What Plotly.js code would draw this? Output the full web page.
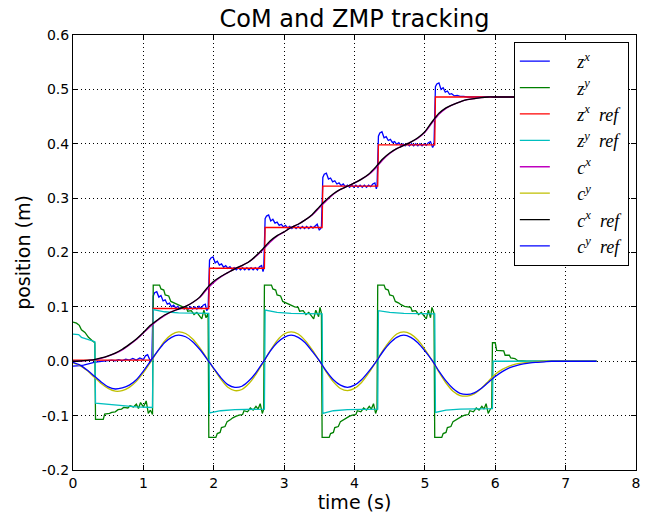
<!DOCTYPE html>
<html>
<head>
<meta charset="utf-8">
<script src="https://cdn.plot.ly/plotly-3.0.1.min.js"></script>
<style>html,body{margin:0;padding:0;background:#fff;}</style>
</head>
<body>
<div id="chart" style="width:650px;height:514px;"></div>
<script>
// ---- time grid for smooth CoM curves (s)
var tGrid = [0.0,0.1,0.2,0.3,0.4,0.5,0.6,0.7,0.8,0.9,1.0,1.1,1.2,1.3,1.4,1.5,1.6,1.7,1.8,1.9,
  2.0,2.1,2.2,2.3,2.4,2.5,2.6,2.7,2.8,2.9,3.0,3.1,3.2,3.3,3.4,3.5,3.6,3.7,3.8,3.9,
  4.0,4.1,4.2,4.3,4.4,4.5,4.6,4.7,4.8,4.9,5.0,5.1,5.2,5.3,5.4,5.5,5.6,5.7,5.8,5.9,
  6.0,6.1,6.2,6.3,6.4,6.5,6.6,6.7,6.8,6.9,7.0,7.1,7.2,7.3,7.4,7.44];

// ---- c^x ref (black)
var cxRef = [0.000,0.0005,0.0015,0.003,0.006,0.010,0.015,0.022,0.031,0.041,0.053,0.066,0.076,0.085,0.091,0.096,0.101,0.108,0.118,0.134,
  0.147,0.156,0.163,0.170,0.176,0.183,0.194,0.207,0.221,0.231,0.238,0.246,0.252,0.260,0.270,0.284,0.297,0.308,0.316,0.322,
  0.328,0.335,0.344,0.357,0.372,0.383,0.391,0.397,0.403,0.411,0.422,0.440,0.456,0.466,0.472,0.477,0.481,0.483,0.485,0.486,
  0.486,0.486,0.486,0.486,0.486,0.486,0.486,0.486,0.486,0.486,0.486,0.486,0.486,0.486,0.486,0.486];
// ---- c^x (magenta)
var cx = [0.000,0.0004,0.0013,0.003,0.0055,0.0095,0.0145,0.021,0.030,0.040,0.052,0.064,0.075,0.084,0.091,0.096,0.101,0.108,0.117,0.132,
  0.145,0.155,0.163,0.170,0.176,0.183,0.193,0.205,0.219,0.230,0.238,0.246,0.252,0.260,0.269,0.282,0.295,0.307,0.316,0.322,
  0.328,0.335,0.343,0.355,0.370,0.382,0.391,0.397,0.403,0.410,0.421,0.438,0.454,0.465,0.472,0.477,0.481,0.483,0.485,0.486,
  0.486,0.486,0.486,0.486,0.486,0.486,0.486,0.486,0.486,0.486,0.486,0.486,0.486,0.486,0.486,0.486];
// ---- c^y ref (blue)
var cyRef = [-0.002,-0.007,-0.016,-0.027,-0.038,-0.047,-0.051,-0.049,-0.044,-0.034,-0.018,0.000,0.018,0.034,0.044,0.048,0.045,0.036,0.022,0.005,
  -0.013,-0.030,-0.043,-0.048,-0.046,-0.036,-0.021,-0.002,0.018,0.034,0.044,0.048,0.044,0.034,0.018,0.001,-0.018,-0.034,-0.044,-0.048,
  -0.044,-0.034,-0.019,-0.002,0.017,0.033,0.044,0.048,0.044,0.034,0.019,0.002,-0.018,-0.036,-0.050,-0.059,-0.061,-0.058,-0.050,-0.039,
  -0.028,-0.019,-0.012,-0.008,-0.005,-0.003,-0.002,-0.001,0.000,0.000,0.000,0.000,0.000,0.000,0.000,0.000];
// ---- c^y (yellow)
var cy = [-0.003,-0.008,-0.017,-0.029,-0.041,-0.050,-0.055,-0.054,-0.048,-0.037,-0.021,-0.002,0.018,0.037,0.049,0.054,0.051,0.041,0.025,0.006,
  -0.014,-0.033,-0.048,-0.054,-0.052,-0.041,-0.024,-0.003,0.019,0.038,0.050,0.054,0.050,0.038,0.021,0.001,-0.020,-0.038,-0.050,-0.054,
  -0.050,-0.039,-0.022,-0.002,0.019,0.037,0.050,0.054,0.050,0.039,0.022,0.002,-0.020,-0.040,-0.055,-0.063,-0.064,-0.060,-0.050,-0.037,
  -0.024,-0.015,-0.009,-0.005,-0.003,-0.002,-0.001,0.000,0.000,0.000,0.000,0.000,0.000,0.000,0.000,0.000];

// ---- z^x ref (red)
var tZxRef = [0, 1.13, 1.14, 1.93, 1.94, 2.72, 2.73, 3.54, 3.55, 4.33, 4.34, 5.14, 5.15, 7.44];
var zxRef  = [0.002, 0.002, 0.097, 0.097, 0.171, 0.171, 0.246, 0.246, 0.322, 0.322, 0.398, 0.398, 0.486, 0.486];

// ---- z^y ref (cyan)
var tZyRef = [0.00,0.08,0.12,0.20,0.31,0.32,0.6,0.9,1.13,1.14,1.3,1.5,1.93,1.94,2.1,2.3,2.72,2.73,2.9,3.1,3.54,3.55,3.7,3.9,4.33,4.34,4.5,4.7,5.14,5.15,5.3,5.5,5.96,5.97,7.44];
var zyRef  = [0.050,0.049,0.044,0.040,0.036,-0.077,-0.081,-0.084,-0.085,0.095,0.091,0.089,0.088,-0.095,-0.091,-0.089,-0.088,0.094,0.090,0.088,0.087,-0.096,-0.091,-0.089,-0.088,0.093,0.090,0.088,0.087,-0.094,-0.090,-0.088,-0.087,0.000,0.000];

// ---- z^x (blue, measured ZMP x)
var tZx = [0,0.05,0.1,0.15,0.2,0.25,0.3,0.35,0.4,0.45,0.5,0.55,0.6,0.65,0.7,0.75,0.8,0.85,0.9,0.95,1.0,1.03,1.06,1.09,1.12,
  1.14,1.16,1.19,1.22,1.25,1.28,1.31,1.34,1.37,1.40,1.43,1.46,1.49,1.52,1.55,1.58,1.61,1.64,1.67,1.70,1.73,1.76,1.79,1.82,1.85,1.88,1.90,1.92,
  1.94,1.96,1.99,2.02,2.05,2.08,2.11,2.14,2.17,2.20,2.23,2.26,2.29,2.32,2.35,2.38,2.41,2.44,2.47,2.50,2.53,2.56,2.59,2.62,2.65,2.68,2.70,2.71,
  2.73,2.75,2.78,2.81,2.84,2.87,2.90,2.93,2.96,2.99,3.02,3.05,3.08,3.11,3.14,3.17,3.20,3.23,3.26,3.29,3.32,3.35,3.38,3.41,3.44,3.47,3.50,3.53,
  3.55,3.57,3.60,3.63,3.66,3.69,3.72,3.75,3.78,3.81,3.84,3.87,3.90,3.93,3.96,3.99,4.02,4.05,4.08,4.11,4.14,4.17,4.20,4.23,4.26,4.29,4.31,4.32,
  4.34,4.36,4.39,4.42,4.45,4.48,4.51,4.54,4.57,4.60,4.63,4.66,4.69,4.72,4.75,4.78,4.81,4.84,4.87,4.90,4.93,4.96,4.99,5.02,5.05,5.08,5.11,5.13,
  5.15,5.17,5.20,5.23,5.26,5.29,5.32,5.35,5.38,5.42,5.46,5.50,5.55,5.60,6.00,7.44];
var zx = [-0.009,-0.009,-0.008,-0.007,-0.005,-0.003,-0.002,-0.001,0.000,0.001,0.001,0.002,0.001,0.003,0.001,0.004,0.002,0.005,0.002,0.006,0.003,0.010,0.012,0.003,0.001,
  0.120,0.126,0.128,0.118,0.121,0.111,0.113,0.105,0.107,0.100,0.103,0.098,0.101,0.096,0.100,0.096,0.100,0.096,0.100,0.096,0.100,0.096,0.101,0.097,0.103,0.105,0.093,0.097,
  0.186,0.190,0.192,0.181,0.184,0.177,0.179,0.173,0.176,0.171,0.174,0.169,0.172,0.168,0.172,0.168,0.172,0.168,0.172,0.168,0.172,0.168,0.172,0.168,0.174,0.176,0.165,0.170,
  0.262,0.267,0.269,0.258,0.261,0.254,0.256,0.250,0.252,0.247,0.250,0.245,0.248,0.244,0.248,0.244,0.248,0.244,0.248,0.244,0.248,0.244,0.248,0.245,0.249,0.252,0.241,0.246,
  0.338,0.344,0.346,0.335,0.337,0.330,0.332,0.326,0.328,0.323,0.326,0.321,0.324,0.320,0.324,0.320,0.324,0.320,0.324,0.320,0.324,0.320,0.324,0.321,0.326,0.328,0.317,0.322,
  0.414,0.420,0.422,0.411,0.413,0.406,0.408,0.402,0.404,0.399,0.402,0.397,0.400,0.396,0.400,0.396,0.400,0.396,0.400,0.396,0.400,0.396,0.400,0.397,0.402,0.404,0.393,0.398,
  0.505,0.510,0.512,0.500,0.503,0.495,0.497,0.491,0.492,0.488,0.489,0.487,0.487,0.486,0.486,0.486];

// ---- z^y (green, measured ZMP y)
var tZy = [0.00,0.05,0.09,0.12,0.17,0.22,0.27,0.31,0.32,0.43,0.45,0.52,0.55,0.60,0.64,0.69,0.72,0.78,0.81,0.86,0.90,0.93,0.96,1.00,1.04,1.07,1.10,1.13,
  1.14,1.23,1.25,1.29,1.31,1.36,1.39,1.44,1.47,1.52,1.56,1.61,1.63,1.68,1.72,1.76,1.80,1.83,1.86,1.89,1.92,
  1.93,2.03,2.05,2.09,2.11,2.16,2.19,2.24,2.27,2.32,2.36,2.41,2.43,2.48,2.52,2.56,2.60,2.63,2.66,2.69,2.71,
  2.72,2.82,2.84,2.88,2.90,2.95,2.98,3.03,3.06,3.11,3.15,3.20,3.22,3.27,3.31,3.35,3.39,3.42,3.45,3.49,3.51,3.53,
  3.54,3.64,3.66,3.70,3.72,3.77,3.80,3.85,3.88,3.93,3.97,4.02,4.04,4.09,4.13,4.17,4.21,4.24,4.27,4.30,4.32,
  4.33,4.42,4.44,4.48,4.50,4.55,4.58,4.63,4.66,4.71,4.75,4.80,4.82,4.87,4.91,4.95,4.99,5.02,5.05,5.08,5.10,5.13,
  5.14,5.24,5.26,5.30,5.32,5.37,5.40,5.45,5.48,5.53,5.57,5.62,5.64,5.69,5.73,5.77,5.81,5.84,5.87,5.90,5.93,5.95,
  5.96,6.00,6.02,6.12,6.14,6.20,6.22,6.28,6.32,6.45,7.44];
var zy = [0.072,0.070,0.066,0.058,0.053,0.044,0.038,0.034,-0.107,-0.107,-0.097,-0.096,-0.094,-0.093,-0.089,-0.088,-0.085,-0.086,-0.082,-0.084,-0.079,-0.087,-0.076,-0.084,-0.073,-0.096,-0.090,-0.098,
  0.140,0.140,0.133,0.131,0.122,0.120,0.110,0.107,0.104,0.101,0.100,0.099,0.092,0.093,0.086,0.090,0.083,0.078,0.094,0.080,0.088,
  -0.140,-0.140,-0.133,-0.131,-0.122,-0.120,-0.111,-0.107,-0.104,-0.101,-0.099,-0.098,-0.091,-0.093,-0.086,-0.090,-0.083,-0.088,-0.078,-0.096,-0.088,
  0.140,0.140,0.133,0.131,0.122,0.120,0.110,0.107,0.104,0.101,0.100,0.099,0.092,0.093,0.086,0.090,0.083,0.078,0.094,0.082,0.099,0.088,
  -0.140,-0.140,-0.133,-0.131,-0.122,-0.120,-0.111,-0.107,-0.104,-0.101,-0.099,-0.098,-0.091,-0.093,-0.086,-0.090,-0.083,-0.088,-0.078,-0.096,-0.088,
  0.140,0.140,0.133,0.131,0.122,0.120,0.110,0.107,0.104,0.101,0.100,0.099,0.092,0.093,0.086,0.090,0.083,0.078,0.094,0.080,0.099,0.088,
  -0.140,-0.140,-0.133,-0.131,-0.122,-0.120,-0.111,-0.107,-0.104,-0.101,-0.099,-0.098,-0.091,-0.093,-0.086,-0.090,-0.083,-0.088,-0.078,-0.096,-0.088,-0.086,
  0.034,0.034,0.020,0.019,0.011,0.011,0.006,0.005,0.001,0.000,0.000];

// ---- labels and ticks
var seriesNames = [
  '\u00a0\u00a0\u00a0\u00a0\u00a0<i>z</i><sup><i>x</i></sup>',
  '\u00a0\u00a0\u00a0\u00a0\u00a0<i>z</i><sup><i>y</i></sup>',
  '\u00a0\u00a0\u00a0\u00a0\u00a0<i>z</i><sup><i>x</i></sup>\u00a0 <i>ref</i>',
  '\u00a0\u00a0\u00a0\u00a0\u00a0<i>z</i><sup><i>y</i></sup>\u00a0 <i>ref</i>',
  '\u00a0\u00a0\u00a0\u00a0\u00a0<i>c</i><sup><i>x</i></sup>',
  '\u00a0\u00a0\u00a0\u00a0\u00a0<i>c</i><sup><i>y</i></sup>',
  '\u00a0\u00a0\u00a0\u00a0\u00a0<i>c</i><sup><i>x</i></sup>\u00a0 <i>ref</i>',
  '\u00a0\u00a0\u00a0\u00a0\u00a0<i>c</i><sup><i>y</i></sup>\u00a0 <i>ref</i>'
];
var xTickVals = [0,1,2,3,4,5,6,7,8];
var xTickText = ['0','1','2','3','4','5','6','7','8'];
var yTickVals = [0.6,0.5,0.4,0.3,0.2,0.1,0.0,-0.1,-0.2];
var yTickText = ['0.6','0.5','0.4','0.3','0.2','0.1','0.0','-0.1','-0.2'];

var colors = ['#0000ff','#008000','#ff0000','#00bfbf','#bf00bf','#bfbf00','#000000','#0000ff'];
var xs = [tZx, tZy, tZxRef, tZyRef, tGrid, tGrid, tGrid, tGrid];
var ys = [zx, zy, zxRef, zyRef, cx, cy, cxRef, cyRef];
var shapes = ['linear','linear','linear','linear','spline','spline','spline','spline'];

var traces = [];
for (var i = 0; i < ys.length; i++) {
  traces.push({
    x: xs[i], y: ys[i], type: 'scatter', mode: 'lines',
    name: seriesNames[i], legendgroup: 'g' + i,
    line: {color: colors[i], width: 1.3, shape: shapes[i], smoothing: 0.6}
  });
}

var axisCommon = {
  showline: true, linecolor: '#000', linewidth: 1, mirror: 'ticks',
  ticks: 'inside', ticklen: 5, tickcolor: '#000', tickwidth: 1,
  showgrid: true, gridcolor: '#000', gridwidth: 1, griddash: '1px,3px',
  zeroline: false,
  tickfont: {family: 'DejaVu Sans', size: 14, color: '#000'}
};

var layout = {
  width: 650, height: 514,
  margin: {l: 73, r: 14, t: 35, b: 44, pad: 0},
  paper_bgcolor: '#fff', plot_bgcolor: '#fff',
  showlegend: true,
  title: {text: 'CoM and ZMP tracking', font: {family: 'DejaVu Sans', size: 24, color: '#000'},
          x: 0.5, xref: 'paper', xanchor: 'center', y: 1 - 19/514, yref: 'container', yanchor: 'middle'},
  xaxis: Object.assign({}, axisCommon, {
    range: [0, 8], tickmode: 'array', tickvals: xTickVals, ticktext: xTickText,
    title: {text: 'time (s)', font: {family: 'DejaVu Sans', size: 19, color: '#000'}, standoff: 2}
  }),
  yaxis: Object.assign({}, axisCommon, {
    range: [-0.2, 0.6], tickmode: 'array', tickvals: yTickVals, ticktext: yTickText,
    title: {text: 'position (m)', font: {family: 'DejaVu Sans', size: 19, color: '#000'}, standoff: 6}
  }),
  legend: {
    x: 0.783, y: 0.984, xanchor: 'left', yanchor: 'top',
    bgcolor: '#fff', bordercolor: '#000', borderwidth: 1,
    font: {family: 'Liberation Serif', size: 18, color: '#000'},
    traceorder: 'grouped', tracegroupgap: 0, itemwidth: 30
  }
};

Plotly.newPlot('chart', traces, layout, {displayModeBar: false, staticPlot: true});
</script>
</body>
</html>
